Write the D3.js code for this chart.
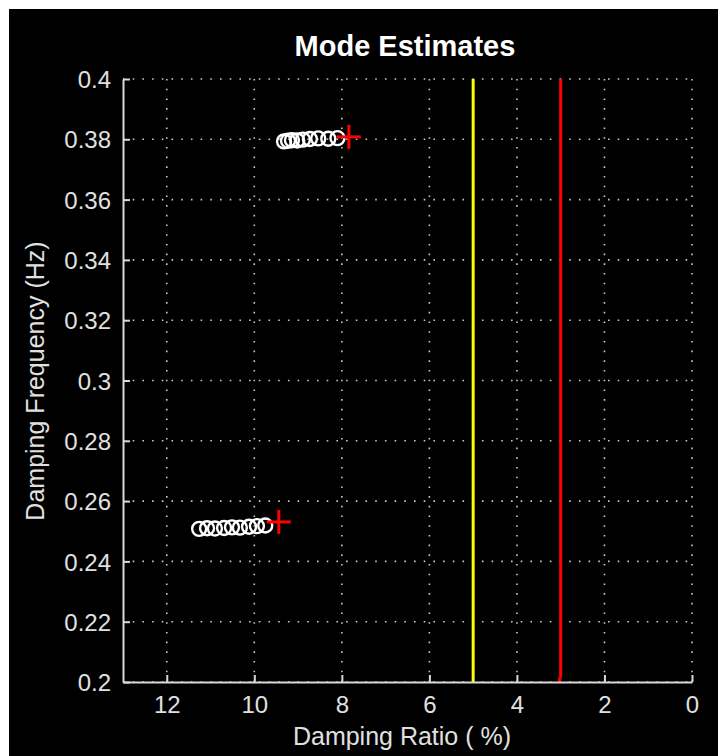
<!DOCTYPE html>
<html>
<head>
<meta charset="utf-8">
<script src="https://cdn.jsdelivr.net/npm/d3@7"></script>
<style>
  html, body { margin: 0; padding: 0; background: #ffffff; }
  svg { display: block; }
  text { font-family: "Liberation Sans", Arial, sans-serif; }
</style>
</head>
<body>
<svg id="chart" width="720" height="756"></svg>
<script>
// Mode estimate history: damping ratio (%) and damping frequency (Hz)
const mode1Ratio = [9.32, 9.23, 9.14, 9.02, 8.89, 8.73, 8.54, 8.31, 8.10];
const mode1Freq  = [0.3793, 0.3795, 0.3797, 0.3796, 0.3799, 0.3801, 0.3803, 0.3802, 0.3804];
const mode2Ratio = [11.26, 11.08, 10.90, 10.69, 10.51, 10.33, 10.12, 9.94, 9.75];
const mode2Freq  = [0.2508, 0.2510, 0.2509, 0.2511, 0.2513, 0.2512, 0.2515, 0.2517, 0.2519];

// Latest estimates (red crosses)
const latestRatio = [7.84, 9.44];
const latestFreq  = [0.3808, 0.2531];

// Damping thresholds: alarm (yellow) and alert (red)
const yellowRatio = [5, 5];
const yellowFreq  = [0.2, 0.4];
const redRatio    = [3, 3, 3.04];
const redFreq     = [0.4, 0.202, 0.2];

// Axis ticks
const xTicks = [12, 10, 8, 6, 4, 2, 0];
const yTicks = [0.2, 0.22, 0.24, 0.26, 0.28, 0.3, 0.32, 0.34, 0.36, 0.38, 0.4];

const svg = d3.select("#chart");

// Black figure background
svg.append("rect")
  .attr("x", 9).attr("y", 9).attr("width", 709).attr("height", 747)
  .attr("fill", "#000000");

const x = d3.scaleLinear().domain([13, 0]).range([123, 692]);
const y = d3.scaleLinear().domain([0.2, 0.4]).range([682, 79]);

const grid = svg.append("g");
const gridColor = "#c8c8c8";

// Dotted grid
grid.selectAll("line.vx").data(xTicks).enter().append("line")
  .attr("x1", d => x(d)).attr("x2", d => x(d))
  .attr("y1", y(0.4)).attr("y2", y(0.2))
  .attr("stroke", gridColor).attr("stroke-width", 1.6)
  .attr("stroke-dasharray", "1.6,8.1");
grid.selectAll("line.hy").data(yTicks).enter().append("line")
  .attr("x1", x(13)).attr("x2", x(0))
  .attr("y1", d => y(d)).attr("y2", d => y(d))
  .attr("stroke", gridColor).attr("stroke-width", 1.6)
  .attr("stroke-dasharray", "1.6,8.1");

// Threshold lines
const line = d3.line().x(d => x(d[0])).y(d => y(d[1]));
svg.append("path")
  .attr("d", line(d3.zip(yellowRatio, yellowFreq)))
  .attr("fill", "none").attr("stroke", "#ffff00").attr("stroke-width", 3);
svg.append("path")
  .attr("d", line(d3.zip(redRatio, redFreq)))
  .attr("fill", "none").attr("stroke", "#ff0000").attr("stroke-width", 3);

// Estimate markers
const pts = d3.zip(mode1Ratio, mode1Freq).concat(d3.zip(mode2Ratio, mode2Freq));
svg.append("g").selectAll("circle").data(pts).enter().append("circle")
  .attr("cx", d => x(d[0])).attr("cy", d => y(d[1]))
  .attr("r", 7)
  .attr("fill", "none").attr("stroke", "#ffffff").attr("stroke-width", 2.4);

// Latest estimates
const cross = svg.append("g");
d3.zip(latestRatio, latestFreq).forEach(d => {
  const cx = x(d[0]), cy = y(d[1]);
  cross.append("line").attr("x1", cx - 12).attr("x2", cx + 12).attr("y1", cy).attr("y2", cy)
    .attr("stroke", "#ff0000").attr("stroke-width", 3);
  cross.append("line").attr("x1", cx).attr("x2", cx).attr("y1", cy - 12).attr("y2", cy + 12)
    .attr("stroke", "#ff0000").attr("stroke-width", 3);
});

// Axes
const axisColor = "#d8d8d8";
const xAxis = svg.append("g").attr("transform", `translate(0,${y(0.2)})`)
  .call(d3.axisBottom(x).tickValues(xTicks).tickSizeInner(-7).tickSizeOuter(0).tickPadding(14).tickFormat(d3.format("d")));
const yAxis = svg.append("g").attr("transform", `translate(${x(13)},0)`)
  .call(d3.axisLeft(y).tickValues(yTicks).tickSizeInner(-7).tickSizeOuter(0).tickPadding(12).tickFormat(d => String(+d.toFixed(2))));

[xAxis, yAxis].forEach(g => {
  g.select(".domain").attr("stroke", axisColor).attr("stroke-width", 2);
  g.selectAll(".tick line").attr("stroke", axisColor).attr("stroke-width", 2);
  g.selectAll(".tick text").attr("fill", "#e0e0e0").attr("font-size", 24)
    .attr("font-family", "'Liberation Sans', Arial, sans-serif");
});
xAxis.selectAll(".tick text").attr("dy", "0.71em");
yAxis.selectAll(".tick text").attr("dy", "0.36em");

// Titles
svg.append("text")
  .attr("x", 405).attr("y", 56)
  .attr("text-anchor", "middle")
  .attr("fill", "#ffffff").attr("font-size", 29).attr("font-weight", "bold")
  .text("Mode Estimates");

svg.append("text")
  .attr("x", 402).attr("y", 745)
  .attr("text-anchor", "middle")
  .attr("fill", "#e0e0e0").attr("font-size", 25)
  .text("Damping Ratio ( %)");

svg.append("text")
  .attr("transform", "translate(44,381) rotate(-90)")
  .attr("text-anchor", "middle")
  .attr("fill", "#e0e0e0").attr("font-size", 25)
  .text("Damping Frequency (Hz)");
</script>
</body>
</html>
